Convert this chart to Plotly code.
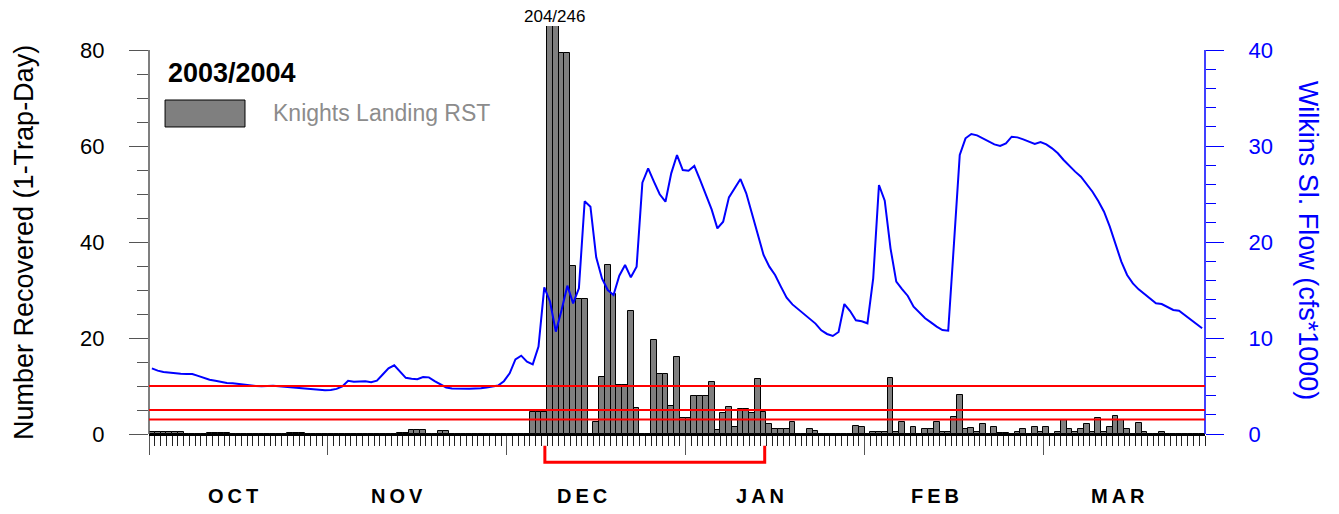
import plotly.graph_objects as go

# ---------------- data ----------------
season_label = "2003/2004"
series_name = "Knights Landing RST"
peak_label = "204/246"

# daily catch (1-trap-day), day index 0 = Oct 1
catch = [
    0.4, 0.4, 0.4, 0.4, 0.4, 0.4, 0, 0, 0, 0,
    0.2, 0.2, 0.2, 0.2, 0, 0, 0, 0, 0, 0,
    0, 0, 0, 0, 0.2, 0.2, 0.2, 0, 0, 0,
    0, 0, 0, 0, 0, 0, 0, 0, 0, 0,
    0, 0, 0, 0.3, 0.3, 0.8, 0.8, 0.8, 0, 0,
    0.6, 0.6, 0, 0, 0, 0, 0, 0, 0, 0,
    0, 0, 0, 0, 0, 0, 4.5, 4.5, 4.5, 204,
    246, 79.4, 79.4, 34.9, 28.2, 28.2, 0, 2.6, 11.8, 35.3,
    29.2, 10.3, 10.3, 25.6, 5.5, 0, 0, 19.5, 12.5, 12.5,
    5.8, 16.1, 3.3, 3.3, 7.9, 7.9, 7.9, 10.9, 0.8, 4.3,
    5.7, 1.5, 5.2, 5.2, 4.3, 11.5, 4.5, 2.0, 1.0, 1.0,
    1.0, 2.4, 0, 0, 1.0, 0.6, 0, 0, 0, 0,
    0, 0, 1.6, 1.5, 0, 0.5, 0.5, 0.5, 11.7, 0.5,
    2.5, 0, 1.5, 0, 1.0, 1.0, 2.4, 0.5, 0.5, 3.5,
    8.2, 1.0, 1.2, 0.5, 2.0, 0, 1.5, 0.3, 0.3, 0,
    0.5, 1.0, 0, 1.5, 0.5, 1.5, 0, 0.5, 2.9, 1.0,
    0.5, 1.0, 2.0, 0.5, 3.4, 0.5, 1.5, 3.7, 2.9, 1.0,
    0, 2.2, 0.5, 0, 0, 0.5, 0, 0, 0, 0,
    0, 0, 0,
]

# Wilkins Slough flow (cfs*1000)
flow = [
    6.84, 6.6, 6.45, 6.37, 6.3, 6.27, 6.25, 6.25, 6.05, 5.83,
    5.65, 5.55, 5.4, 5.32, 5.28, 5.2, 5.12, 5.06, 5.0, 4.97,
    5.0, 5.03, 4.97, 4.92, 4.85, 4.82, 4.8, 4.75, 4.68, 4.6,
    4.55, 4.58, 4.7, 4.95, 5.55, 5.45, 5.47, 5.49, 5.4, 5.55,
    6.2, 6.84, 7.15, 6.49, 5.85, 5.75, 5.7, 5.94, 5.9, 5.5,
    5.2, 4.85, 4.75, 4.72, 4.72, 4.72, 4.75, 4.76, 4.85, 4.95,
    5.05, 5.5, 6.32, 7.78, 8.16, 7.53, 7.26, 9.10, 15.28, 13.78,
    10.66, 12.92, 15.45, 13.61, 15.17, 24.24, 23.68, 18.4, 16.2, 15.0,
    14.48, 16.49, 17.6, 16.32, 17.43, 26.18, 27.67, 26.28, 24.97, 24.2,
    27.15, 29.06, 27.5, 27.43, 27.92, 26.46, 24.9, 23.4, 21.42, 22.11,
    24.65, 25.59, 26.56, 25.07, 22.92, 20.73, 18.65, 17.43, 16.56, 15.35,
    14.2, 13.5, 13.0, 12.6, 12.05, 11.5, 10.8, 10.42, 10.21, 10.63,
    13.54, 12.81, 11.84, 11.74, 11.53, 16.22, 25.94, 24.3, 19.34, 15.87,
    15.1, 14.38, 13.26, 12.64, 12.05, 11.63, 11.18, 10.83, 10.76, 19.86,
    29.06, 30.8, 31.25, 31.11, 30.8, 30.45, 30.17, 30.0, 30.28, 30.97,
    30.9, 30.69, 30.42, 30.21, 30.42, 30.17, 29.76, 29.24, 28.54, 27.92,
    27.33, 26.8, 26.04, 25.24, 24.27, 23.16, 21.6, 19.69, 17.95, 16.56,
    15.69, 15.07, 14.55, 14.03, 13.61, 13.54, 13.26, 12.92, 12.85, 12.4,
    11.95, 11.46, 11.01,
]

n_days = 183
month_names = ["OCT", "NOV", "DEC", "JAN", "FEB", "MAR"]
month_starts = [0, 31, 62, 93, 124, 155]
month_label_days = [14.5, 42.9, 75.1, 105.9, 136.2, 167.9]
thresholds = [10, 5, 3]
bracket_days = [68.6, 106.7]
left_ticks = [0, 20, 40, 60, 80]
right_ticks = [0, 10, 20, 30, 40]

day_centers = [i + 0.5 for i in range(n_days)]

FONT = "Liberation Sans, Arial, sans-serif"
BLUE = "#0000FF"

fig = go.Figure()
fig.add_trace(go.Bar(
    x=day_centers, y=catch, width=1,
    marker=dict(color="#7f7f7f", line=dict(color="black", width=1)),
    yaxis="y", showlegend=False, hoverinfo="skip",
))
fig.add_trace(go.Scatter(
    x=day_centers, y=flow, mode="lines",
    line=dict(color=BLUE, width=2),
    yaxis="y2", showlegend=False, hoverinfo="skip",
))

shapes = []
# left axis line (0..80) and right axis line (0..40)
shapes.append(dict(type="line", xref="paper", yref="y", x0=0, x1=0, y0=0, y1=max(left_ticks),
                   line=dict(color="#555555", width=1.5)))
shapes.append(dict(type="line", xref="paper", yref="y2", x0=1, x1=1, y0=0, y1=max(right_ticks),
                   line=dict(color=BLUE, width=1.5)))
for t in thresholds:
    shapes.append(dict(type="line", xref="paper", yref="y", x0=0, x1=1, y0=t, y1=t,
                       line=dict(color="#FF0000", width=2)))
# bracket below the axis
b0, b1 = bracket_days
yt, yb = -0.029, -0.069
shapes.append(dict(type="path", xref="x", yref="paper",
                   path=f"M {b0},{yt} L {b0},{yb} L {b1},{yb} L {b1},{yt}",
                   line=dict(color="#FF0000", width=3)))
# legend swatch
shapes.append(dict(type="rect", xref="paper", yref="paper", x0=0.0152, x1=0.0909, y0=0.7525, y1=0.8186,
                   fillcolor="#7f7f7f", line=dict(color="black", width=1)))

annotations = [
    dict(text="Number Recovered (1-Trap-Day)", xref="paper", yref="paper", x=-0.119, y=0.469,
         textangle=-90, showarrow=False, font=dict(family=FONT, size=27, color="black"),
         xanchor="center", yanchor="middle"),
    dict(text="Wilkins Sl. Flow (cfs*1000)", xref="paper", yref="paper", x=1.0975, y=0.474,
         textangle=90, showarrow=False, font=dict(family=FONT, size=27, color=BLUE),
         xanchor="center", yanchor="middle"),
    dict(text=f"<b>{season_label}</b>", xref="paper", yref="paper", x=0.016, y=0.885,
         showarrow=False, font=dict(family=FONT, size=27, color="black"),
         xanchor="left", yanchor="middle"),
    dict(text=series_name, xref="paper", yref="paper", x=0.1155, y=0.787,
         showarrow=False, font=dict(family=FONT, size=23, color="#8c8c8c"),
         xanchor="left", yanchor="middle"),
    dict(text=peak_label, xref="x", yref="paper", x=70.3, y=1.0,
         showarrow=False, font=dict(family=FONT, size=17, color="black"),
         xanchor="center", yanchor="bottom", yshift=-1, borderpad=0),
]
for name, d in zip(month_names, month_label_days):
    annotations.append(dict(text="<b>" + "\u2009".join(name) + "</b>", xref="x", yref="paper",
                            x=d, y=-0.152, showarrow=False, borderpad=0,
                            font=dict(family=FONT, size=20, color="black"),
                            xanchor="center", yanchor="middle"))

# page body has an 8px margin: size the figure so the plot area lands where the reference has it
fig.update_layout(
    width=1323, height=498,
    margin=dict(l=141, r=126, t=18, b=72),
    paper_bgcolor="white", plot_bgcolor="white",
    bargap=0, showlegend=False,
    font=dict(family=FONT),
    xaxis=dict(range=[0, n_days], showline=True, linecolor="black", linewidth=1.5,
               ticks="outside", tickvals=month_starts, ticklen=19, tickcolor="#555555", tickwidth=1,
               showticklabels=False, showgrid=False, zeroline=False,
               minor=dict(tickvals=list(range(n_days + 1)), ticklen=10, tickcolor="#222222",
                          tickwidth=1, showgrid=False)),
    yaxis=dict(range=[0, 85], tickvals=left_ticks, ticks="outside", ticklen=19,
               tickcolor="#555555", tickwidth=1, showline=False, showgrid=False, zeroline=False,
               tickfont=dict(family=FONT, size=22, color="black"), ticklabelstandoff=20,
               minor=dict(tickvals=list(range(5, 80, 5)), ticklen=11, tickcolor="#555555",
                          tickwidth=1, showgrid=False)),
    yaxis2=dict(range=[0, 42.5], overlaying="y", side="right", tickvals=right_ticks,
                ticks="outside", ticklen=18, tickcolor=BLUE, tickwidth=1,
                showline=False, showgrid=False, zeroline=False,
                tickfont=dict(family=FONT, size=22, color=BLUE), ticklabelstandoff=20,
                minor=dict(tickvals=list(range(2, 40, 2)), ticklen=10, tickcolor=BLUE,
                           tickwidth=1, showgrid=False)),
    shapes=shapes,
    annotations=annotations,
)

fig.write_html("out.html")
